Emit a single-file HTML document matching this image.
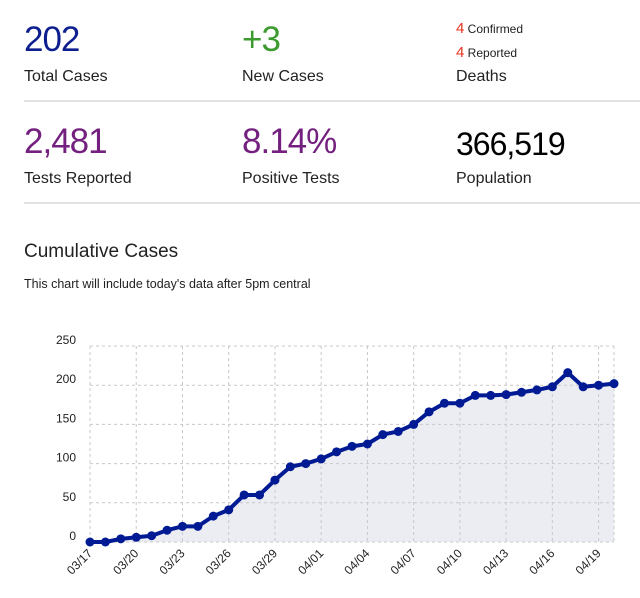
<!DOCTYPE html>
<html><head><meta charset="utf-8"><style>
body{margin:0;width:640px;height:598px;background:#fff;font-family:"Liberation Sans",sans-serif;position:relative;overflow:hidden}
.a{position:absolute;white-space:nowrap}
.big{font-size:35px;line-height:1;letter-spacing:-1px}
.lbl{font-size:16px;color:#222}
.hr{position:absolute;left:24px;right:0;height:2px;background:#e2e2e2}
</style></head><body>
<div class="a big" style="left:24px;top:22px;color:#0d1f8f">202</div>
<div class="a lbl" style="left:24px;top:68px">Total Cases</div>
<div class="a big" style="left:242px;top:22px;color:#3c9a2e">+3</div>
<div class="a lbl" style="left:242px;top:68px">New Cases</div>
<div class="a" style="left:456px;top:20px;font-size:12px;color:#222"><span style="color:#e8321e;font-size:15px">4</span> Confirmed</div>
<div class="a" style="left:456px;top:44px;font-size:12px;color:#222"><span style="color:#e8321e;font-size:15px">4</span> Reported</div>
<div class="a lbl" style="left:456px;top:68px">Deaths</div>
<div class="hr" style="top:100px"></div>
<div class="a big" style="left:24px;top:124px;color:#74207f">2,481</div>
<div class="a lbl" style="left:24px;top:170px">Tests Reported</div>
<div class="a big" style="left:242px;top:124px;color:#74207f">8.14%</div>
<div class="a lbl" style="left:242px;top:170px">Positive Tests</div>
<div class="a big" style="left:456px;top:128px;color:#000;font-size:32px">366,519</div>
<div class="a lbl" style="left:456px;top:170px">Population</div>
<div class="hr" style="top:202px"></div>
<div class="a" style="left:24px;top:241px;font-size:19px;color:#222">Cumulative Cases</div>
<div class="a" style="left:24px;top:277px;font-size:12.5px;color:#222">This chart will include today's data after 5pm central</div>
<svg id="chart" class="a" style="left:0;top:0" width="640" height="598"></svg>
<script>
const dates=["03/17","03/18","03/19","03/20","03/21","03/22","03/23","03/24","03/25","03/26","03/27","03/28","03/29","03/30","03/31","04/01","04/02","04/03","04/04","04/05","04/06","04/07","04/08","04/09","04/10","04/11","04/12","04/13","04/14","04/15","04/16","04/17","04/18","04/19","04/20"];
const cases=[0,0,4,6,8,15,20,20,33,41,60,60,79,96,100,106,115,122,125,137,141,150,166,177,177,187,187,188,191,194,198,216,198,200,202];
const yTicks=[0,50,100,150,200,250];
const ns="http://www.w3.org/2000/svg";
const svg=document.getElementById('chart');
const x0=90,x1=614,y0=542,y1=346,ymax=250;
const X=i=>x0+(x1-x0)*i/(dates.length-1);
const Y=v=>y0-(y0-y1)*v/ymax;
function mk(t,a){const e=document.createElementNS(ns,t);for(const k in a)e.setAttribute(k,a[k]);svg.appendChild(e);return e;}
yTicks.forEach(t=>{
 const g=mk('line',{x1:x0,x2:x1,y1:Y(t),y2:Y(t),stroke:'#c8c8c8','stroke-dasharray':'3,3'});
 
 
 const l=mk('text',{x:76,y:Y(t)-2,'text-anchor':'end','font-size':'12','fill':'#222','font-family':'Liberation Sans, sans-serif'});
 l.textContent=t;
 
 
});
dates.forEach((d,i)=>{
 if(i%3!==0)return;
 const g=mk('line',{x1:X(i),x2:X(i),y1:y1,y2:y0,stroke:'#c8c8c8','stroke-dasharray':'3,3'});
 
 
 const l=mk('text',{x:X(i)+3,y:y0+12,'text-anchor':'end','font-size':'12','fill':'#222','font-family':'Liberation Sans, sans-serif',transform:`rotate(-45 ${X(i)+3} ${y0+12})`});
 l.textContent=d;
 
 
});
mk('line',{x1:x1,x2:x1,y1:y1,y2:y0,stroke:'#c8c8c8','stroke-dasharray':'3,3'});
let pts=cases.map((v,i)=>X(i)+','+Y(v)).join(' ');
const area=mk('polygon',{points:`${X(0)},${y0} ${pts} ${X(cases.length-1)},${y0}`,fill:'rgba(200,200,222,0.35)'});


const line=mk('polyline',{points:pts,fill:'none',stroke:'#001a94','stroke-width':'4','stroke-linejoin':'round'});


cases.forEach((v,i)=>{
 const c=mk('circle',{cx:X(i),cy:Y(v),r:4.5,fill:'#001a94'});
 
 
});
</script>
</body></html>
